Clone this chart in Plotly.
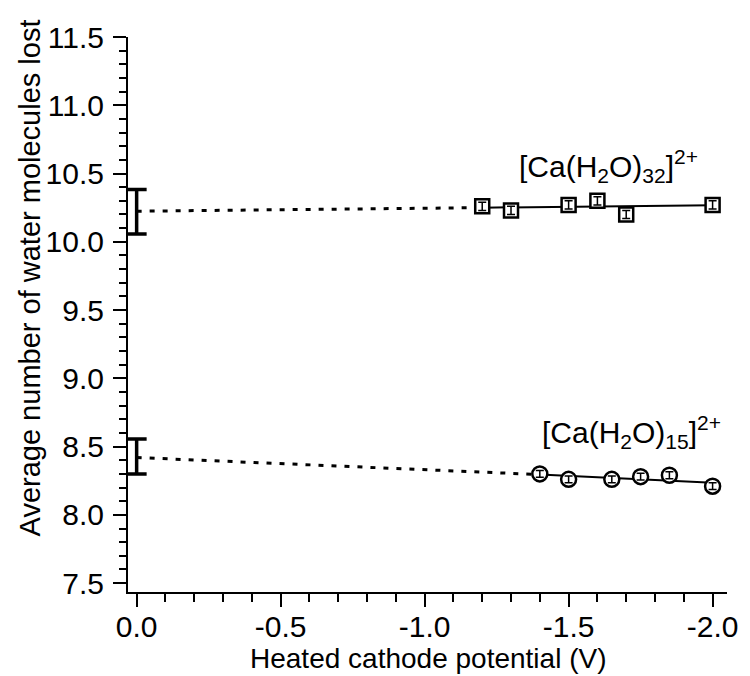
import plotly.graph_objects as go

# measured points, heated cathode runs
x_ca32 = [-1.2, -1.3, -1.5, -1.6, -1.7, -2.0]
y_ca32 = [10.26, 10.23, 10.27, 10.30, 10.20, 10.27]
err_ca32 = [0.03, 0.03, 0.03, 0.03, 0.03, 0.03]

x_ca15 = [-1.4, -1.5, -1.65, -1.75, -1.85, -2.0]
y_ca15 = [8.30, 8.26, 8.26, 8.28, 8.29, 8.21]
err_ca15 = [0.025, 0.025, 0.025, 0.025, 0.025, 0.025]

# values at 0 V (extrapolated) with asymmetric error
x_zero = [0.0, 0.0]
y_zero = [10.224, 8.42]
err_zero_plus = [0.159, 0.135]
err_zero_minus = [0.166, 0.12]

# fit lines: x = [0, first point, -2.0]
fit_x_ca32 = [0.0, -1.2, -2.0]
fit_y_ca32 = [10.224, 10.250, 10.268]
fit_x_ca15 = [0.0, -1.4, -2.0]
fit_y_ca15 = [8.42, 8.295, 8.235]

x_tickvals = [0.0, -0.5, -1.0, -1.5, -2.0]
x_ticktext = ["0.0", "-0.5", "-1.0", "-1.5", "-2.0"]
y_tickvals = [7.5, 8.0, 8.5, 9.0, 9.5, 10.0, 10.5, 11.0, 11.5]
y_ticktext = ["7.5", "8.0", "8.5", "9.0", "9.5", "10.0", "10.5", "11.0", "11.5"]

FONT = "Liberation Sans, Arial, sans-serif"

fig = go.Figure()

# dotted extrapolations
fig.add_scatter(x=fit_x_ca32[:2], y=fit_y_ca32[:2], mode="lines",
                line=dict(color="black", width=3, dash="5px,8px"))
fig.add_scatter(x=fit_x_ca15[:2], y=fit_y_ca15[:2], mode="lines",
                line=dict(color="black", width=3, dash="5px,8px"))
# solid fits
fig.add_scatter(x=fit_x_ca32[1:], y=fit_y_ca32[1:], mode="lines",
                line=dict(color="black", width=2))
fig.add_scatter(x=fit_x_ca15[1:], y=fit_y_ca15[1:], mode="lines",
                line=dict(color="black", width=2))

# open markers, then error bars drawn on top of them
fig.add_scatter(x=x_ca32, y=y_ca32, mode="markers",
                marker=dict(symbol="square", size=14, color="white",
                            line=dict(color="black", width=2.5)))
fig.add_scatter(x=x_ca15, y=y_ca15, mode="markers",
                marker=dict(symbol="circle", size=15, color="white",
                            line=dict(color="black", width=2.5)))
fig.add_scatter(x=x_ca32, y=y_ca32, mode="markers", marker=dict(size=0.1, color="black"),
                error_y=dict(type="data", array=err_ca32, color="black", thickness=1.5, width=4))
fig.add_scatter(x=x_ca15, y=y_ca15, mode="markers", marker=dict(size=0.1, color="black"),
                error_y=dict(type="data", array=err_ca15, color="black", thickness=1.5, width=4))

fig.add_scatter(
    x=x_zero, y=y_zero, mode="markers",
    marker=dict(size=1, color="black"),
    error_y=dict(type="data", symmetric=False, array=err_zero_plus,
                 arrayminus=err_zero_minus, color="black", thickness=3.5, width=10),
)

fig.add_annotation(x=-1.637, y=10.556, text="[Ca(H<sub>2</sub>O)<sub>32</sub>]<sup>2+</sup>",
                   showarrow=False, font=dict(size=30, color="black", family=FONT))
fig.add_annotation(x=-1.72, y=8.605, text="[Ca(H<sub>2</sub>O)<sub>15</sub>]<sup>2+</sup>",
                   showarrow=False, font=dict(size=30, color="black", family=FONT))

# axis titles
fig.add_annotation(xref="paper", yref="paper", x=0.5, y=0, yshift=-84,
                   xanchor="center", yanchor="bottom", showarrow=False,
                   text="Heated cathode potential (V)",
                   font=dict(size=28, color="black", family=FONT))
fig.add_annotation(xref="paper", yref="paper", x=0, y=0.565, xshift=-98,
                   xanchor="center", yanchor="middle", textangle=-90, showarrow=False,
                   text="Average number of water molecules lost",
                   font=dict(size=29, color="black", family=FONT))

# the page body adds an 8 px offset, so the figure is 8 px smaller than the window
fig.update_layout(
    width=742, height=668,
    margin=dict(l=120, r=15, t=21, b=84),
    plot_bgcolor="white", paper_bgcolor="white",
    showlegend=False,
    font=dict(family=FONT, size=30, color="black"),
    xaxis=dict(
        range=[0.03, -2.05], showline=True, linecolor="black", linewidth=2,
        showgrid=False, zeroline=False,
        tickvals=x_tickvals, ticktext=x_ticktext, ticklabelstandoff=-6,
        ticks="outside", ticklen=13, tickwidth=1.5, tickcolor="black",
        minor=dict(dtick=0.1, tick0=0, ticks="outside", ticklen=8, tickwidth=1.5, tickcolor="black"),
    ),
    yaxis=dict(
        range=[7.435, 11.5], showline=True, linecolor="black", linewidth=2,
        showgrid=False, zeroline=False,
        tickvals=y_tickvals, ticktext=y_ticktext, ticklabelstandoff=3,
        ticks="outside", ticklen=13, tickwidth=1.5, tickcolor="black",
        minor=dict(dtick=0.1, tick0=7.5, ticks="outside", ticklen=7, tickwidth=1.5, tickcolor="black"),
    ),
)

fig.write_html("out.html")
